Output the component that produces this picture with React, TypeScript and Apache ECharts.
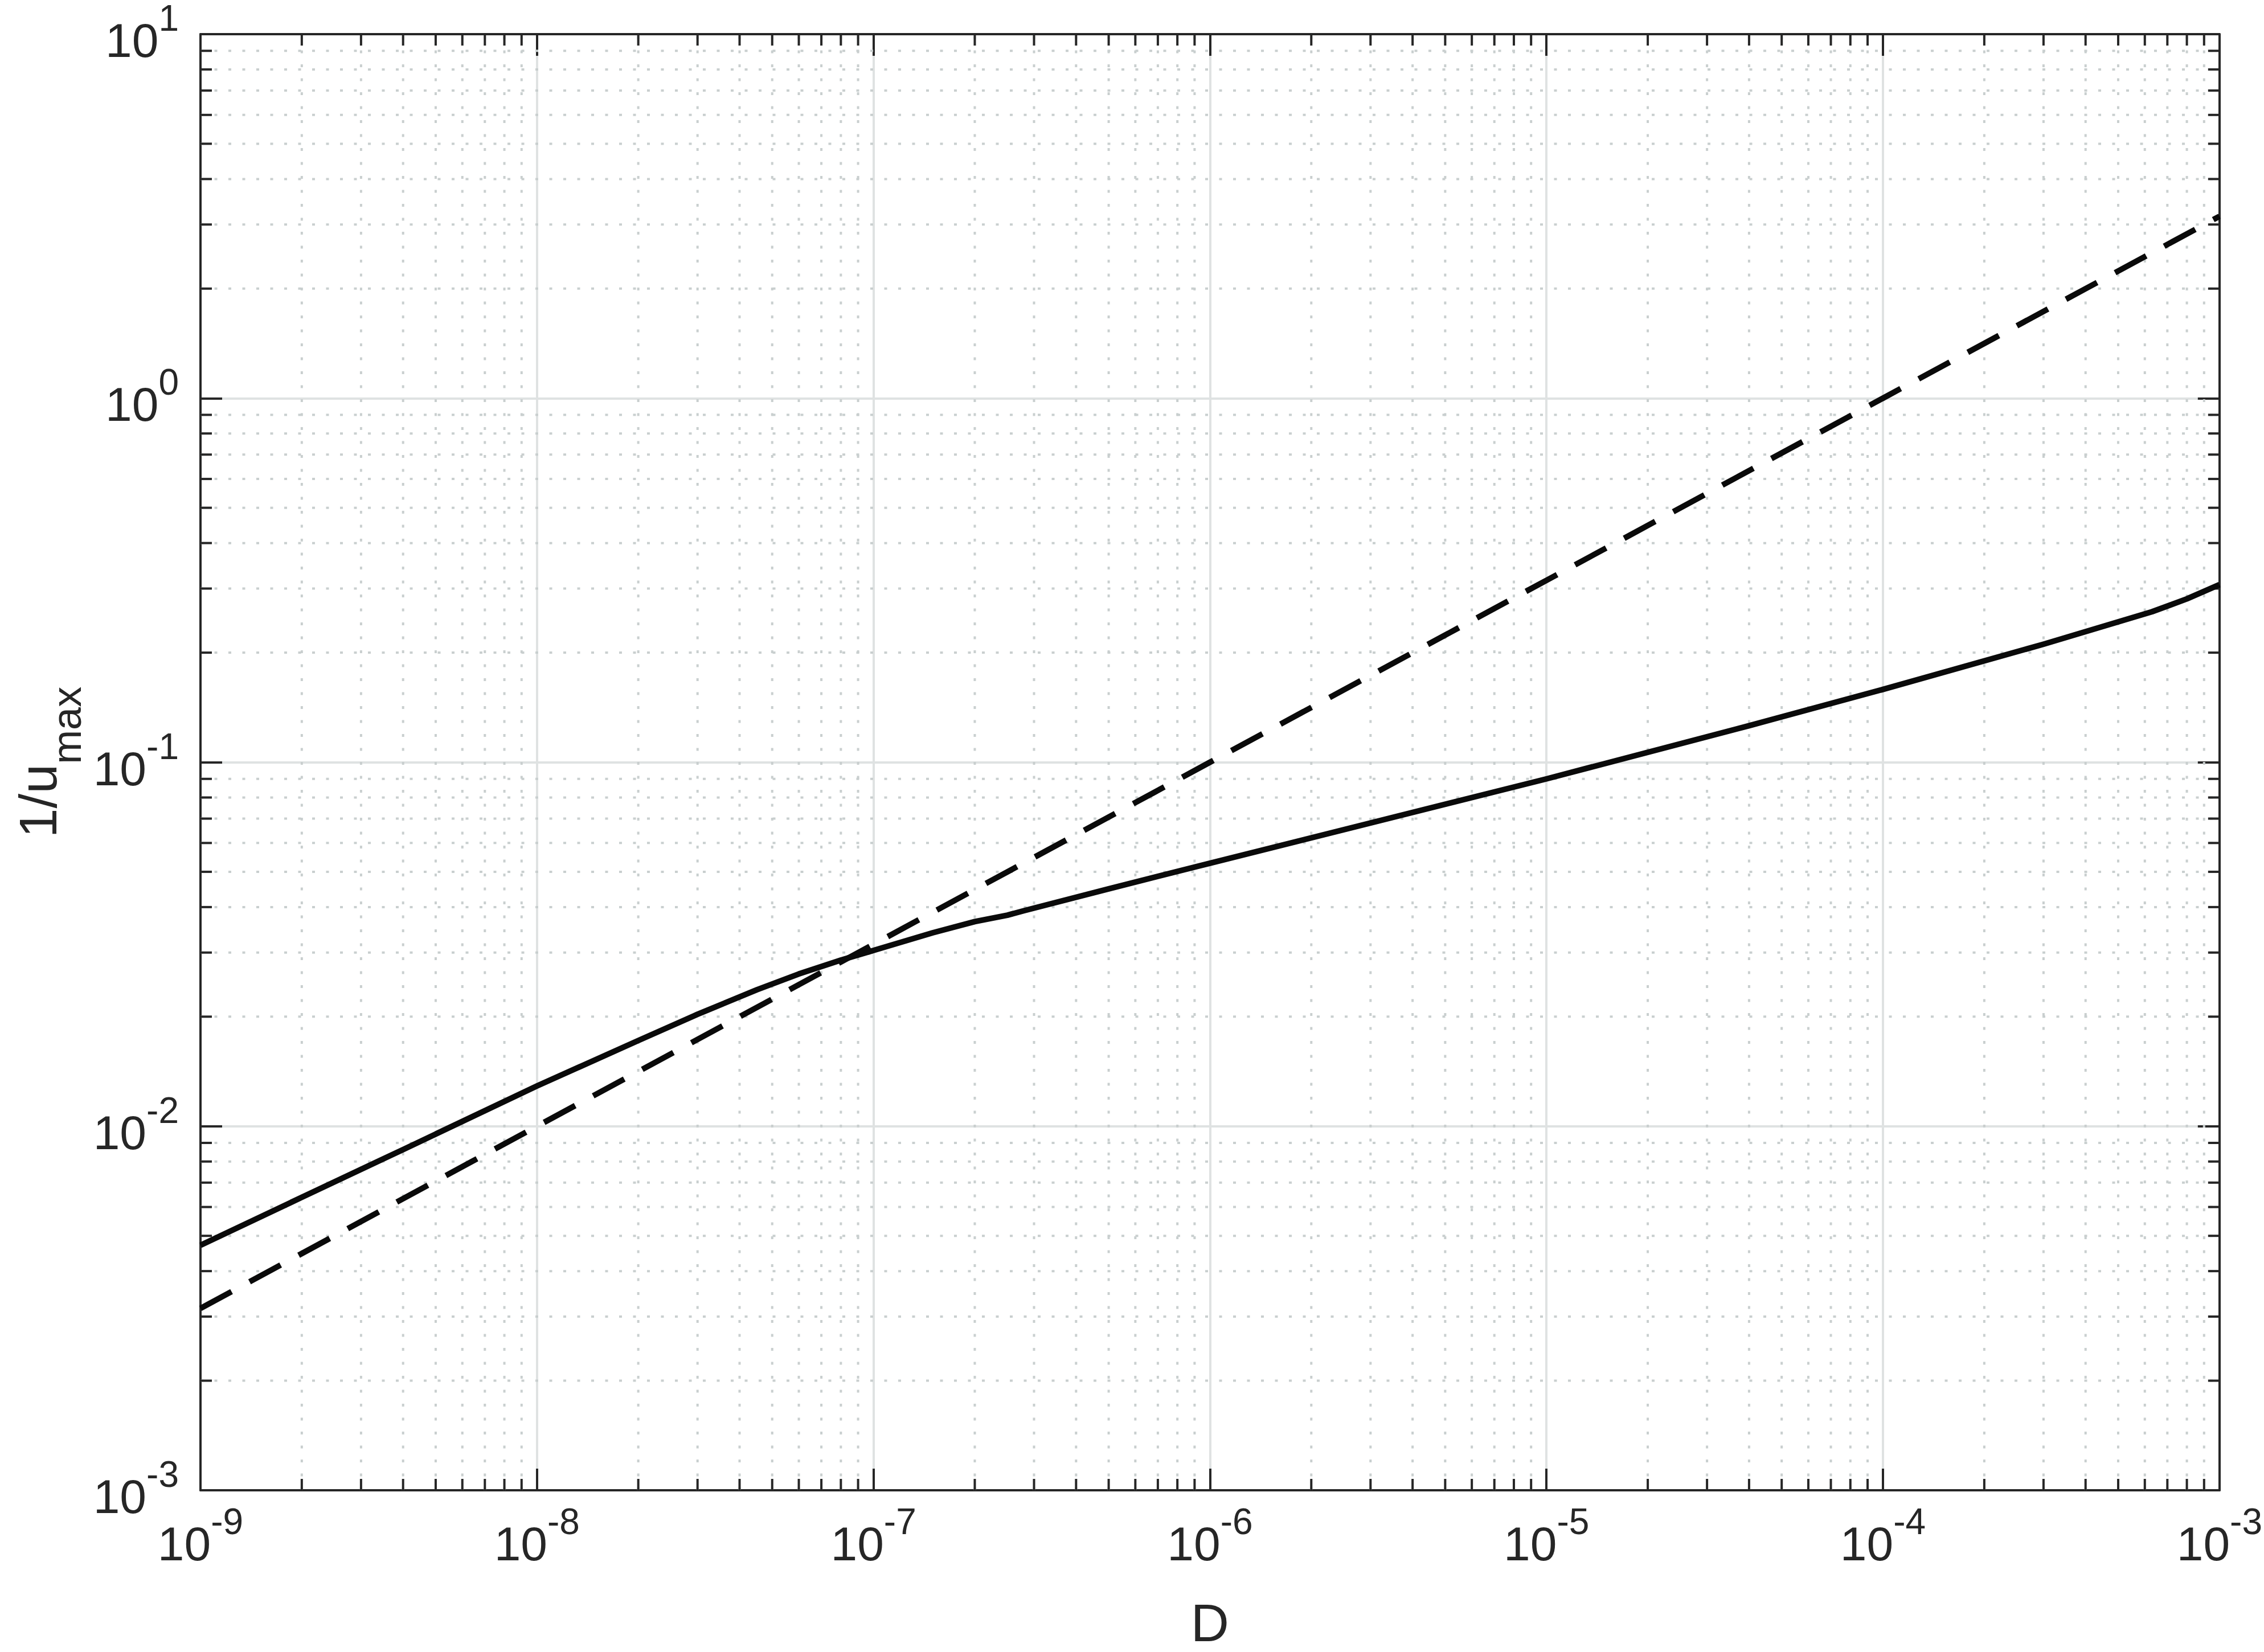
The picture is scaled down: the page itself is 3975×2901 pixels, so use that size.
import React, { useEffect, useRef } from "react";
import * as echarts from "echarts";

// ---- data ----
const xMin = 1e-9;
const xMax = 1e-3;
const yMin = 1e-3;
const yMax = 10;

// solid curve: 1/u_max vs D
const solidD = [1e-9, 2e-9, 4e-9, 1e-8, 2e-8, 3e-8, 4.5e-8, 6e-8, 8e-8, 1e-7, 1.5e-7, 2e-7, 2.5e-7, 2.8e-7, 5e-7, 1e-6, 1e-5, 4e-5, 1e-4, 3e-4, 6.3e-4, 8e-4, 1e-3];
const solidU = [0.00471, 0.00638, 0.00863, 0.0129, 0.0172, 0.0203, 0.0237, 0.0262, 0.0286, 0.0304, 0.034, 0.0365, 0.038, 0.0391, 0.0449, 0.0528, 0.09, 0.126, 0.1585, 0.211, 0.259, 0.281, 0.3076];

// dashed curve
const dashedD = [1e-9, 1e-8, 1e-7, 1e-6, 1e-5, 1e-4, 1e-3];
const dashedU = [0.00316, 0.01, 0.0316, 0.1, 0.316, 1.0, 3.16];

// axis structure
const xDecades = [-9, -8, -7, -6, -5, -4];
const yDecades = [-3, -2, -1, 0];
const minorMultipliers = [2, 3, 4, 5, 6, 7, 8, 9];

const xLabelName = "D";
const yLabelMain = "1/u";
const yLabelSub = "max";

// ---- style ----
const FONT = "'Liberation Sans', Arial, Helvetica, sans-serif";
const AXIS_COLOR = "#262626";
const MAJOR_GRID = "#dfe2e2";
const MINOR_GRID = "#c9cfcf";
const LINE_COLOR = "#0a0a0a";

const minorX = xDecades.flatMap((e) => minorMultipliers.map((m) => m * Math.pow(10, e)));
const minorY = yDecades.flatMap((e) => minorMultipliers.map((m) => m * Math.pow(10, e)));

const tickRich = {
  b: { fontSize: 84, lineHeight: 84, fontFamily: FONT, color: AXIS_COLOR, verticalAlign: "bottom" },
  s: { fontSize: 64, lineHeight: 50, fontFamily: FONT, color: AXIS_COLOR, verticalAlign: "bottom", padding: [0, 0, 49, 0] },
};

const powLabel = (v: number) => {
  const e = Math.round(Math.log10(v));
  return `{b|10}{s|${e}}`;
};

function minorXRender(params: any, api: any) {
  const cs = params.coordSys;
  const px = api.coord([api.value(0), 1])[0];
  const top = cs.y;
  const bottom = cs.y + cs.height;
  return {
    type: "group",
    silent: true,
    children: [
      { type: "line", shape: { x1: px, y1: bottom, x2: px, y2: top }, style: { stroke: MINOR_GRID, lineWidth: 4, lineDash: [5, 19.5] } },
      { type: "line", shape: { x1: px, y1: bottom, x2: px, y2: bottom - 20 }, style: { stroke: AXIS_COLOR, lineWidth: 4 } },
      { type: "line", shape: { x1: px, y1: top, x2: px, y2: top + 20 }, style: { stroke: AXIS_COLOR, lineWidth: 4 } },
    ],
  };
}

function minorYRender(params: any, api: any) {
  const cs = params.coordSys;
  const py = api.coord([1e-6, api.value(1)])[1];
  const left = cs.x;
  const right = cs.x + cs.width;
  return {
    type: "group",
    silent: true,
    children: [
      { type: "line", shape: { x1: left, y1: py, x2: right, y2: py }, style: { stroke: MINOR_GRID, lineWidth: 4, lineDash: [5, 19.5] } },
      { type: "line", shape: { x1: left, y1: py, x2: left + 20, y2: py }, style: { stroke: AXIS_COLOR, lineWidth: 4 } },
      { type: "line", shape: { x1: right, y1: py, x2: right - 20, y2: py }, style: { stroke: AXIS_COLOR, lineWidth: 4 } },
    ],
  };
}

const baseAxis = (extra: any) => ({
  type: "log",
  logBase: 10,
  axisLine: { show: true, lineStyle: { color: AXIS_COLOR, width: 4 } },
  axisTick: { show: true, inside: true, length: 38, lineStyle: { color: AXIS_COLOR, width: 4 } },
  ...extra,
});

export default function App() {
  const ref = useRef<HTMLDivElement | null>(null);

  useEffect(() => {
    if (!ref.current) return;
    const chart = echarts.init(ref.current, undefined, { renderer: "svg" });

    const option: any = {
      animation: false,
      backgroundColor: "#ffffff",
      grid: { left: 352, top: 51, width: 3547, height: 2568, containLabel: false },
      xAxis: [
        baseAxis({
          position: "bottom",
          min: xMin,
          max: xMax,
          splitNumber: 6,
          name: xLabelName,
          nameLocation: "middle",
          nameGap: 186,
          nameTextStyle: { fontSize: 93, lineHeight: 93, fontFamily: FONT, color: AXIS_COLOR },
          axisLabel: {
            show: true,
            margin: 52,
            formatter: powLabel,
            rich: tickRich,
            showMinLabel: true,
            showMaxLabel: true,
            hideOverlap: false,
          },
          splitLine: { show: true, lineStyle: { color: MAJOR_GRID, width: 4 } },
        }),
        baseAxis({
          position: "top",
          min: xMin,
          max: xMax,
          splitNumber: 6,
          axisLabel: { show: false },
          splitLine: { show: false },
        }),
      ],
      yAxis: [
        baseAxis({
          position: "left",
          min: yMin,
          max: yMax,
          splitNumber: 4,
          name: `{a|${yLabelMain}}{c|${yLabelSub}}`,
          nameLocation: "middle",
          nameRotate: 90,
          nameGap: 219,
          nameTextStyle: {
            color: AXIS_COLOR,
            rich: {
              a: { fontSize: 93, lineHeight: 93, fontFamily: FONT, color: AXIS_COLOR, verticalAlign: "top" },
              c: { fontSize: 72, lineHeight: 72, fontFamily: FONT, color: AXIS_COLOR, verticalAlign: "top", padding: [60, 0, 0, 0] },
            },
          },
          axisLabel: {
            show: true,
            margin: 38,
            padding: [22, 0, 0, 0],
            formatter: powLabel,
            rich: tickRich,
            showMinLabel: true,
            showMaxLabel: true,
            hideOverlap: false,
          },
          splitLine: { show: true, lineStyle: { color: MAJOR_GRID, width: 4 } },
        }),
        baseAxis({
          position: "right",
          min: yMin,
          max: yMax,
          splitNumber: 4,
          axisLabel: { show: false },
          splitLine: { show: false },
        }),
      ],
      series: [
        {
          type: "custom",
          name: "minorX",
          xAxisIndex: 0,
          yAxisIndex: 0,
          z: 1,
          silent: true,
          clip: false,
          renderItem: minorXRender,
          data: minorX.map((v) => [v, 1]),
        },
        {
          type: "custom",
          name: "minorY",
          xAxisIndex: 0,
          yAxisIndex: 0,
          z: 1,
          silent: true,
          clip: false,
          renderItem: minorYRender,
          data: minorY.map((v) => [1e-6, v]),
        },
        {
          type: "line",
          name: "solid",
          xAxisIndex: 0,
          yAxisIndex: 0,
          z: 3,
          showSymbol: false,
          symbol: "none",
          data: solidD.map((d, i) => [d, solidU[i]]),
          lineStyle: { color: LINE_COLOR, width: 10, type: "solid", join: "round" },
        },
        {
          type: "line",
          name: "dashed",
          xAxisIndex: 0,
          yAxisIndex: 0,
          z: 3,
          showSymbol: false,
          symbol: "none",
          data: dashedD.map((d, i) => [d, dashedU[i]]),
          lineStyle: { color: LINE_COLOR, width: 10, type: [62, 36], cap: "butt" },
        },
      ],
    };

    chart.setOption(option);
    return () => {
      chart.dispose();
    };
  }, []);

  return (
    <div
      ref={ref}
      style={{ position: "absolute", left: 0, top: 0, width: 3975, height: 2901, background: "#ffffff" }}
    />
  );
}
